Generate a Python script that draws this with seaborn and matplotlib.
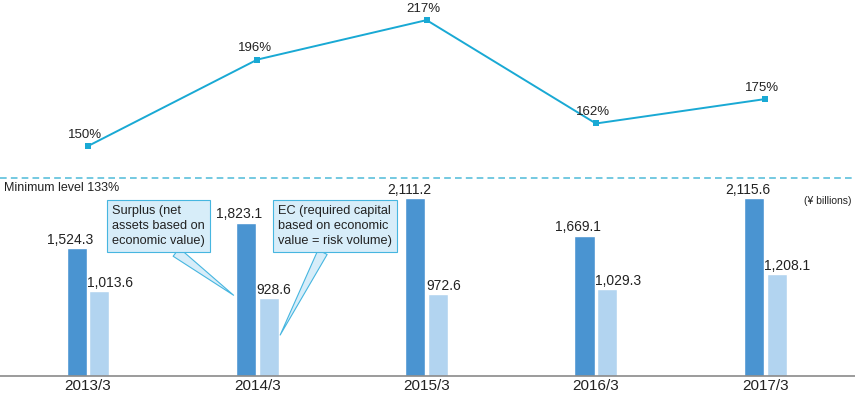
import matplotlib
matplotlib.use("Agg")
import matplotlib.pyplot as plt
import seaborn as sns
import pandas as pd
import numpy as np

years = ["2013/3", "2014/3", "2015/3", "2016/3", "2017/3"]
surplus = [1524.3, 1823.1, 2111.2, 1669.1, 2115.6]
ec = [1013.6, 928.6, 972.6, 1029.3, 1208.1]
esr = [150, 196, 217, 162, 175]
min_level = 133

C_DARK = "#4a94d1"
C_LIGHT = "#b2d4f0"
C_LINE = "#19a9d4"
C_DASH = "#5cc0dc"
C_BOX = "#d7edf9"
C_BOXEDGE = "#46b6e0"

sns.set_theme(style="white")
plt.rcParams["font.family"] = ["Liberation Sans", "DejaVu Sans"]

bars = pd.DataFrame({
    "year": years * 2,
    "kind": ["Surplus"] * len(years) + ["EC"] * len(years),
    "value": surplus + ec,
})
ratio = pd.DataFrame({"pos": np.arange(len(years)), "esr": esr})

W, H = 855, 395
fig = plt.figure(figsize=(W / 100, H / 100), dpi=100)
ax_bar = fig.add_axes([0, 1 - 376 / H, 1, 198 / H])
ax_line = fig.add_axes([0, 1 - 178 / H, 1, 178 / H])

xlim = (-88 / 169.3, (W - 88) / 169.3)

# bars
sns.barplot(data=bars, x="year", y="value", hue="kind", order=years,
            hue_order=["Surplus", "EC"], palette=[C_DARK, C_LIGHT],
            width=0.27, gap=0.12, legend=False, saturation=1, ax=ax_bar)
ax_bar.set_xlim(*xlim)
ax_bar.set_ylim(0, 2354)
ax_bar.set_xlabel("")
ax_bar.set_ylabel("")
ax_bar.set_yticks([])
ax_bar.tick_params(axis="x", length=0, pad=2.5, labelsize=11, colors="#222222")
for s in ["top", "left", "right"]:
    ax_bar.spines[s].set_visible(False)
ax_bar.spines["bottom"].set_color("#8a8a8a")
ax_bar.spines["bottom"].set_linewidth(1.2)
ax_bar.patch.set_alpha(0)

n = len(years)
for i, p in enumerate(ax_bar.patches[:2 * n]):
    h = p.get_height()
    if i < n:
        ax_bar.annotate(f"{h:,.1f}", xy=(p.get_x() + p.get_width(), h),
                        xytext=(4.5, 3), textcoords="offset points",
                        ha="right", va="baseline", fontsize=10, color="#222222")
    else:
        ax_bar.annotate(f"{h:,.1f}", xy=(p.get_x(), h),
                        xytext=(-1.5, 3), textcoords="offset points",
                        ha="left", va="baseline", fontsize=10, color="#222222")

# callouts
callout = dict(fontsize=9.2, color="#222222", ha="left", va="top",
               linespacing=1.3,
               bbox=dict(boxstyle="square,pad=0.4", fc=C_BOX, ec=C_BOXEDGE, lw=0.8))
ax_bar.annotate("Surplus (net\nassets based on\neconomic value)",
                xy=(0.86, 960), xytext=(0.142, 2030), textcoords="data",
                arrowprops=dict(arrowstyle="wedge,tail_width=0.8", fc=C_BOX,
                                ec=C_BOXEDGE, lw=0.8, shrinkA=0, shrinkB=0,
                                relpos=(0.6, 0.02)),
                **callout)
ax_bar.annotate("EC (required capital\nbased on economic\nvalue = risk volume)",
                xy=(1.135, 487), xytext=(1.122, 2030), textcoords="data",
                arrowprops=dict(arrowstyle="wedge,tail_width=0.8", fc=C_BOX,
                                ec=C_BOXEDGE, lw=0.8, shrinkA=0, shrinkB=0,
                                relpos=(0.42, 0.02)),
                **callout)

# ratio line
sns.lineplot(data=ratio, x="pos", y="esr", color=C_LINE, lw=1.4, marker="s",
             markersize=5, markeredgewidth=0, ax=ax_line)
ax_line.set_xlim(*xlim)
ax_line.set_ylim(min_level, 227.7)
ax_line.axis("off")
ax_line.axhline(min_level, color=C_DASH, lw=1.2, ls=(0, (4, 2.5)), clip_on=False)
for x, v in zip(ratio["pos"], ratio["esr"]):
    ax_line.annotate(f"{v}%", xy=(x, v), xytext=(-2, 6), textcoords="offset points",
                     ha="center", va="baseline", fontsize=9.5, color="#222222")
ax_line.annotate(f"Minimum level {min_level}%", xy=(0, min_level),
                 xycoords=("axes fraction", "data"), xytext=(3, -3),
                 textcoords="offset points", ha="left", va="top",
                 fontsize=9, color="#222222")

fig.text(851 / W, 1 - 201 / H, "(¥ billions)", ha="right", va="center",
         fontsize=7.5, color="#222222")

fig.savefig("out.png", dpi=100, facecolor="white")
